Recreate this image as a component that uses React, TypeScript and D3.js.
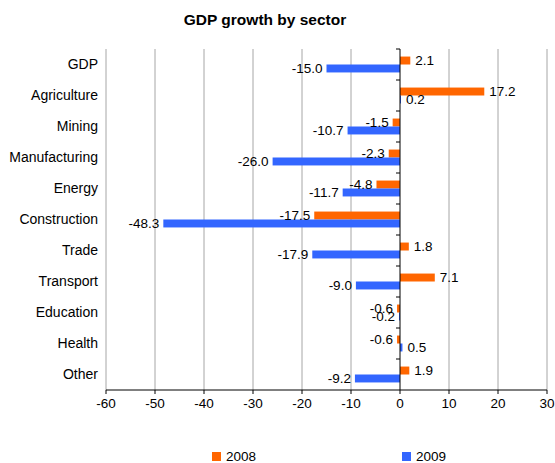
import React from "react";
import * as d3 from "d3";

const categories = ["GDP", "Agriculture", "Mining", "Manufacturing", "Energy", "Construction", "Trade", "Transport", "Education", "Health", "Other"];
const values2008 = [2.1, 17.2, -1.5, -2.3, -4.8, -17.5, 1.8, 7.1, -0.6, -0.6, 1.9];
const values2009 = [-15.0, 0.2, -10.7, -26.0, -11.7, -48.3, -17.9, -9.0, -0.2, 0.5, -9.2];
const xTicks = [-60, -50, -40, -30, -20, -10, 0, 10, 20, 30];
const seriesNames = ["2008", "2009"];
const colors = ["#FF6600", "#3366FF"];

const width = 555;
const height = 463;
const marginTop = 49;
const marginBottom = 73;
const marginLeft = 106;
const marginRight = 8;
const font = "Liberation Sans, Arial, sans-serif";

const App = () => {
  const chartBottomY = height - marginBottom;

  const xScale = d3.scaleLinear().domain([-60, 30]).range([marginLeft, width - marginRight]);

  const yScale = d3
    .scaleBand()
    .domain(categories)
    .range([marginTop, chartBottomY]);

  // inner band for the two series inside each category
  const inner = d3
    .scaleBand()
    .domain(seriesNames)
    .range([0, yScale.bandwidth()])
    .paddingOuter(0.95);

  const series = [values2008, values2009];
  const x0 = xScale(0);

  return (
    <svg width={width} height={height} style={{ position: "absolute", left: 0, top: 0 }} fontFamily={font}>
      <rect width={width} height={height} fill="#fff" />
      <text x={265} y={25} textAnchor="middle" fontSize={15.5} fontWeight="bold">
        GDP growth by sector
      </text>

      {/* gridlines */}
      <g className="grid">
        {xTicks.map((t) =>
          t === 0 ? null : (
            <line key={t} x1={xScale(t)} x2={xScale(t)} y1={marginTop} y2={chartBottomY} stroke="#a6a6a6" strokeWidth={1} />
          )
        )}
      </g>

      {/* bars */}
      <g className="bars">
        {series.map((vals, si) =>
          vals.map((v, i) => (
            <rect
              key={`${si}-${i}`}
              x={Math.min(xScale(v), x0)}
              y={yScale(categories[i])! + inner(seriesNames[si])!}
              width={Math.abs(xScale(v) - x0)}
              height={inner.bandwidth()}
              fill={colors[si]}
            />
          ))
        )}
      </g>

      {/* value labels */}
      <g className="labels" fontSize={13.5}>
        {series.map((vals, si) =>
          vals.map((v, i) => (
            <text
              key={`${si}-${i}`}
              x={v >= 0 ? xScale(v) + 5 : xScale(v) - 4}
              y={yScale(categories[i])! + inner(seriesNames[si])! + inner.bandwidth() / 2}
              dy="0.35em"
              textAnchor={v >= 0 ? "start" : "end"}
              fill="#000"
            >
              {v.toFixed(1)}
            </text>
          ))
        )}
      </g>

      {/* zero axis with category ticks */}
      <line x1={x0} x2={x0} y1={marginTop} y2={chartBottomY} stroke="#000" strokeWidth={1} />
      {categories.map((c, i) =>
        i === 0 ? null : (
          <line key={c} x1={x0 - 4} x2={x0} y1={yScale(c)} y2={yScale(c)} stroke="#000" />
        )
      )}
      <line x1={x0 - 4} x2={x0} y1={marginTop} y2={marginTop} stroke="#000" />

      {/* category labels */}
      <g fontSize={14}>
        {categories.map((c) => (
          <text key={c} x={98} y={yScale(c)! + yScale.bandwidth() / 2} dy="0.35em" textAnchor="end">
            {c}
          </text>
        ))}
      </g>

      {/* bottom axis */}
      <line x1={marginLeft} x2={width - marginRight} y1={chartBottomY} y2={chartBottomY} stroke="#000" />
      <g fontSize={13.5}>
        {xTicks.map((t) => (
          <g key={t}>
            <line x1={xScale(t)} x2={xScale(t)} y1={chartBottomY} y2={chartBottomY + 4} stroke="#000" />
            <text x={xScale(t)} y={chartBottomY + 18} textAnchor="middle">
              {t}
            </text>
          </g>
        ))}
      </g>

      {/* legend */}
      <g fontSize={13.5}>
        {seriesNames.map((s, i) => {
          const lx = i === 0 ? 212 : 402;
          return (
            <g key={s}>
              <rect x={lx} y={452} width={9} height={9} fill={colors[i]} />
              <text x={lx + 14} y={461}>
                {s}
              </text>
            </g>
          );
        })}
      </g>
    </svg>
  );
};

export default App;
